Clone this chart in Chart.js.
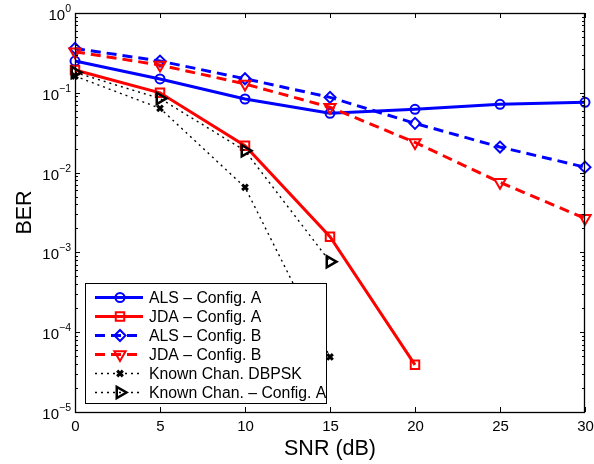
<!DOCTYPE html>
<html>
<head>
<meta charset="utf-8">
<script src="https://cdn.jsdelivr.net/npm/chart.js@4.4.1/dist/chart.umd.min.js"></script>
<style>
  html, body { margin: 0; padding: 0; background: #fff; }
  #wrap { width: 594px; height: 464px; }
</style>
</head>
<body>
<div id="wrap"><canvas id="berChart" width="594" height="464"></canvas></div>
<script>
// SNR points (dB) and BER values
const snrValues = [0, 5, 10, 15, 20, 25, 30];
const alsConfigA = [0.25, 0.149, 0.0836, 0.0553, 0.0621, 0.0718, 0.076];
const jdaConfigA = [0.193, 0.1, 0.0217, 0.00157, 3.9e-5];
const alsConfigB = [0.36, 0.25, 0.15, 0.0877, 0.0414, 0.0209, 0.0117];
const jdaConfigB = [0.327, 0.223, 0.129, 0.066, 0.0239, 0.00755, 0.00267];
const knownDbpsk = [0.162, 0.064, 0.00654, 4.9e-5];
const knownConfigA = [0.18, 0.085, 0.0188, 7.65e-4];

const seriesNames = [
    'ALS \u2013 Config. A',
    'JDA \u2013 Config. A',
    'ALS \u2013 Config. B',
    'JDA \u2013 Config. B',
    'Known Chan. DBPSK',
    'Known Chan. \u2013 Config. A'
];
const xTicks = [0, 5, 10, 15, 20, 25, 30];
const yTickExponents = [0, -1, -2, -3, -4, -5];

const FONT = "'Liberation Sans', Arial, Helvetica, sans-serif";

function toPoints(values) {
    return values.map((v, i) => ({ x: snrValues[i], y: v }));
}

function makeSeries(name, values, color, style) {
    return {
        label: name,
        data: toPoints(values),
        borderColor: color,
        backgroundColor: 'rgba(0,0,0,0)',
        borderWidth: style.width,
        borderDash: style.dash,
        pointStyle: style.marker,
        pointRotation: style.rotation || 0,
        pointRadius: style.radius,
        pointHoverRadius: style.radius,
        pointBorderWidth: style.markerWidth,
        pointBorderColor: color,
        pointBackgroundColor: 'rgba(0,0,0,0)',
        tension: 0,
        clip: false
    };
}

const datasets = [
    makeSeries(seriesNames[0], alsConfigA, '#0000ff', { width: 3, dash: [], marker: 'circle', radius: 4.5, markerWidth: 2 }),
    makeSeries(seriesNames[1], jdaConfigA, '#ff0000', { width: 3, dash: [], marker: 'rect', radius: 6, markerWidth: 2 }),
    makeSeries(seriesNames[2], alsConfigB, '#0000ff', { width: 3, dash: [10, 6], marker: 'rectRot', radius: 5.5, markerWidth: 2 }),
    makeSeries(seriesNames[3], jdaConfigB, '#ff0000', { width: 3, dash: [10, 6], marker: 'triangle', rotation: 180, radius: 6.5, markerWidth: 2 }),
    makeSeries(seriesNames[4], knownDbpsk, '#000000', { width: 1.4, dash: [2, 4], marker: 'crossRot', radius: 4, markerWidth: 3 }),
    makeSeries(seriesNames[5], knownConfigA, '#000000', { width: 1.4, dash: [2, 4], marker: 'triangle', rotation: 90, radius: 6.5, markerWidth: 2.5 })
];
// later series sit on top, like the original plot
datasets.forEach((d, i) => { d.order = datasets.length - i; });

// axes box, inward ticks, labels and legend box
const matlabAxes = {
    id: 'matlabAxes',
    afterDraw(chart) {
        const ctx = chart.ctx;
        const area = chart.chartArea;
        const xs = chart.scales.x;
        const ys = chart.scales.y;
        ctx.save();
        ctx.setLineDash([]);
        ctx.strokeStyle = '#000';
        ctx.fillStyle = '#000';
        ctx.lineWidth = 1.3;

        // box
        ctx.strokeRect(Math.round(area.left) + 0.5, Math.round(area.top) + 0.5,
            Math.round(area.width) - 1, Math.round(area.height));

        // x ticks
        ctx.lineWidth = 1;
        ctx.font = '15px ' + FONT;
        ctx.textAlign = 'center';
        ctx.textBaseline = 'alphabetic';
        xTicks.forEach(v => {
            const px = Math.round(xs.getPixelForValue(v)) + 0.5;
            ctx.beginPath();
            ctx.moveTo(px, area.bottom); ctx.lineTo(px, area.bottom - 5);
            ctx.moveTo(px, area.top); ctx.lineTo(px, area.top + 5);
            ctx.stroke();
            ctx.fillText(String(v), px, area.bottom + 19);
        });

        // y ticks (decades + minor)
        yTickExponents.forEach(e => {
            const base = Math.pow(10, e);
            const py = Math.round(ys.getPixelForValue(base)) + 0.5;
            ctx.beginPath();
            ctx.moveTo(area.left, py); ctx.lineTo(area.left + 5, py);
            ctx.moveTo(area.right, py); ctx.lineTo(area.right - 5, py);
            ctx.stroke();
            if (e < 0) {
                for (let m = 2; m <= 9; m++) {
                    const my = Math.round(ys.getPixelForValue(m * base)) + 0.5;
                    ctx.beginPath();
                    ctx.moveTo(area.left, my); ctx.lineTo(area.left + 3, my);
                    ctx.moveTo(area.right, my); ctx.lineTo(area.right - 3, my);
                    ctx.stroke();
                }
            }
            const sup = e === 0 ? '0' : '\u2212' + String(-e);
            ctx.font = '10.5px ' + FONT;
            const supW = ctx.measureText(sup).width;
            ctx.textAlign = 'right';
            ctx.fillText(sup, 71, py - 2);
            ctx.font = '15px ' + FONT;
            ctx.fillText('10', 71 - supW, py + 6);
        });

        // axis titles
        ctx.font = '21.5px ' + FONT;
        ctx.textAlign = 'center';
        ctx.fillText('SNR (dB)', (area.left + area.right) / 2, 455);
        ctx.save();
        ctx.translate(31, (area.top + area.bottom) / 2);
        ctx.rotate(-Math.PI / 2);
        ctx.fillText('BER', 0, 0);
        ctx.restore();

        // legend
        const lx = 85.5, ly = 283.5, lw = 241, lh = 120;
        ctx.fillStyle = '#fff';
        ctx.fillRect(lx, ly, lw, lh);
        ctx.strokeStyle = '#000';
        ctx.lineWidth = 1;
        ctx.strokeRect(lx, ly, lw, lh);
        datasets.forEach((d, i) => {
            const rowY = 297.5 + i * 19;
            ctx.strokeStyle = d.borderColor;
            ctx.lineWidth = d.borderWidth;
            ctx.setLineDash(d.borderDash);
            ctx.beginPath();
            ctx.moveTo(95, rowY);
            ctx.lineTo(143, rowY);
            ctx.stroke();
            ctx.setLineDash([]);
            ctx.lineWidth = d.pointBorderWidth;
            ctx.fillStyle = 'rgba(0,0,0,0)';
            Chart.helpers.drawPoint(ctx, {
                pointStyle: d.pointStyle,
                rotation: d.pointRotation,
                radius: d.pointRadius,
                borderWidth: d.pointBorderWidth
            }, 120, rowY);
            ctx.fillStyle = '#000';
            ctx.font = '15.8px ' + FONT;
            ctx.textAlign = 'left';
            ctx.fillText(d.label, 149, rowY + 5.5);
        });
        ctx.restore();
    }
};

new Chart(document.getElementById('berChart').getContext('2d'), {
    type: 'line',
    data: { datasets: datasets },
    options: {
        responsive: false,
        animation: false,
        layout: { padding: { left: 75, top: 13, right: 9, bottom: 52 } },
        plugins: {
            legend: { display: false },
            tooltip: { enabled: false }
        },
        scales: {
            x: { type: 'linear', min: 0, max: 30, display: false },
            y: { type: 'logarithmic', min: 1e-5, max: 1, display: false }
        }
    },
    plugins: [matlabAxes]
});
</script>
</body>
</html>
